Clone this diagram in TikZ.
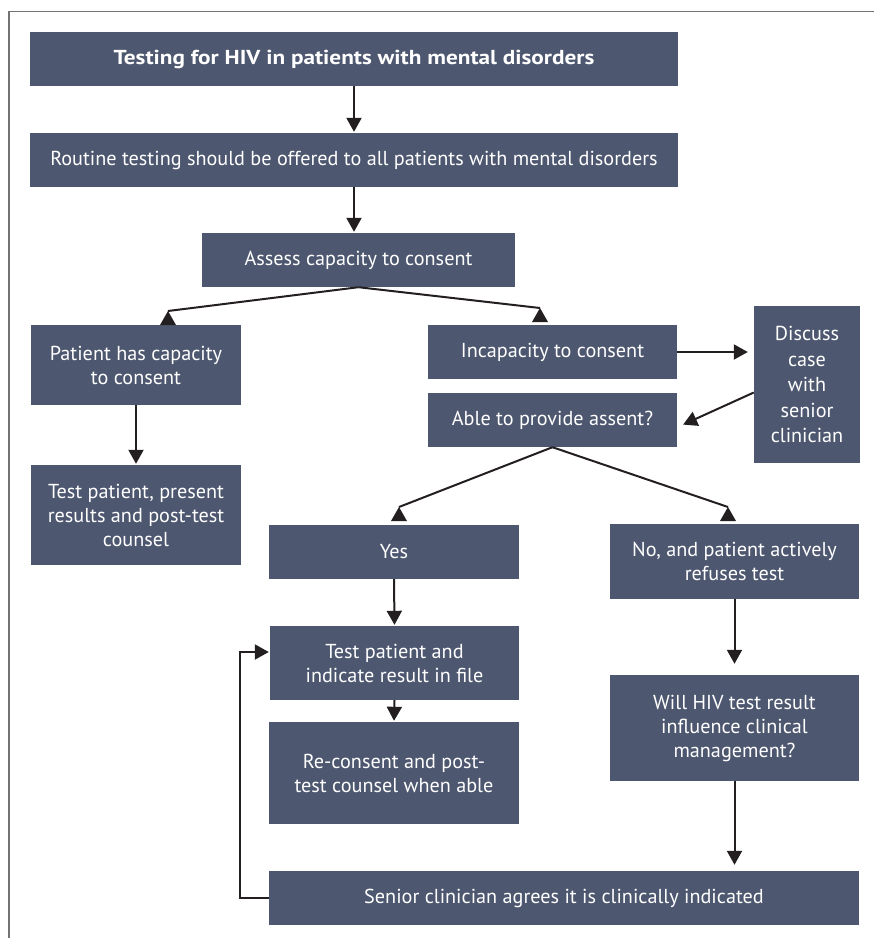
\documentclass[tikz,border=0pt]{standalone}
\usepackage{graphicx}
\usepackage{fontspec}
\setmainfont{PT Sans}
\usetikzlibrary{arrows.meta}
\definecolor{boxfill}{RGB}{77,87,111}
\definecolor{ink}{RGB}{35,31,32}
\definecolor{framegray}{RGB}{115,115,115}
\tikzset{
  box/.style={fill=boxfill, text=white, align=center, inner sep=0pt,
    font=\fontsize{20.2}{24}\selectfont},
  link/.style={draw=ink, line width=2pt},
  arrow/.style={link, -{Triangle[width=15pt,length=14pt]}, shorten >=1pt},
  uptip/.pic={\fill[ink] (0,0) -- (-8,14) -- (8,14) -- cycle;}
}
\begin{document}
\begin{tikzpicture}[x=1pt,y=-1pt]
\useasboundingbox (0,0) rectangle (874,938);
% frame
\draw[framegray, line width=1.5pt] (9,938) -- (9,11.5) -- (874,11.5);

% boxes
\node[box, minimum width=648pt, minimum height=54pt] (title) at (354,59)
  {\scalebox{1.15}[1]{\bfseries Testing for HIV in patients with mental disorders}};
\node[box, minimum width=648pt, minimum height=54pt] (routine) at (354,160)
  {Routine testing should be offered to all patients with mental disorders};
\node[box, minimum width=313pt, minimum height=54pt] (assess) at (358.5,260)
  {Assess capacity to consent};
\node[box, minimum width=210pt, minimum height=80pt] (cap) at (136,365)
  {Patient has capacity\\to consent};
\node[box, minimum width=210pt, minimum height=100pt] (testcap) at (136,515)
  {Test patient, present\\results and post-test\\counsel};
\node[box, minimum width=249pt, minimum height=54pt] (incap) at (552.5,352)
  {Incapacity to consent};
\node[box, minimum width=249pt, minimum height=54pt] (assent) at (552.5,420)
  {Able to provide assent?};
\node[box, minimum width=106pt, minimum height=157pt,
  font=\fontsize{20.2}{25.5}\selectfont] (discuss) at (807,384.5)
  {Discuss\\case\\with\\senior\\clinician};
\node[box, minimum width=250pt, minimum height=54pt] (yes) at (394,552)
  {Yes};
\node[box, minimum width=249pt, minimum height=75pt] (no) at (734.5,561.5)
  {No, and patient actively\\refuses test};
\node[box, minimum width=249pt, minimum height=74pt] (testind) at (394.5,663)
  {Test patient and\\indicate result in file};
\node[box, minimum width=249pt, minimum height=106pt] (will) at (734.5,728)
  {Will HIV test result\\influence clinical\\management?};
\node[box, minimum width=250pt, minimum height=102pt] (recon) at (394,773)
  {Re-consent and post-\\test counsel when able};
\node[box, minimum width=590pt, minimum height=54pt] (senior) at (564,898)
  {Senior clinician agrees it is clinically indicated};

% tips of the split connectors
\coordinate (capTip) at (168,311);
\coordinate (incapTip) at (540,308);
\coordinate (yesTip) at (399,507);
\coordinate (noTip) at (728,507);

% connectors
\draw[arrow] (title) -- (routine);
\draw[arrow] (routine) -- (routine.south |- assess.north);
\draw[link] (assess.south) -- (capTip);
\draw[link] (assess.south) -- (incapTip);
\pic at (capTip) {uptip};
\pic at (incapTip) {uptip};
\draw[arrow] (cap.south) -- (testcap.north);
\draw[arrow] (incap.east) -- ([xshift=-5pt]discuss.west |- incap.east);
\draw[arrow] ([yshift=-8pt]discuss.west) -- ([xshift=5pt,yshift=-5pt]assent.east);
\draw[link] (assent.south) -- (yesTip);
\draw[link] (assent.south) -- (noTip);
\pic at (yesTip) {uptip};
\pic at (noTip) {uptip};
\draw[arrow] (yes.south) -- (testind.north);
\draw[arrow] (testind.south) -- (recon.north);
\draw[arrow] (no.south) -- ([yshift=10pt]will.north);
\draw[arrow] (will.south) -- ([yshift=5pt]senior.north -| will.south);
\draw[arrow] (senior.west) -- ++(-29,0) |- ([yshift=11pt]testind.west);
\end{tikzpicture}
\end{document}
